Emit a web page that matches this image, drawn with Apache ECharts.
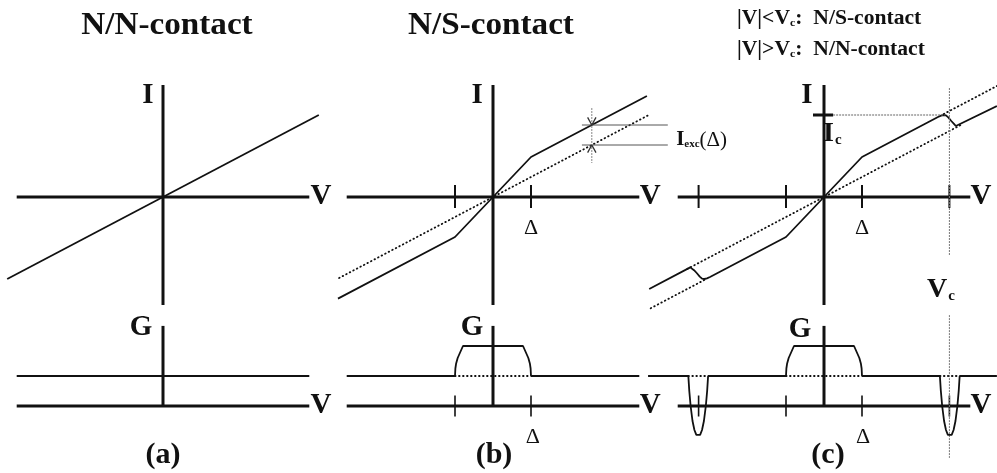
<!DOCTYPE html>
<html>
<head>
<meta charset="utf-8">
<script src="https://cdn.jsdelivr.net/npm/echarts@6/dist/echarts.min.js"></script>
<style>
  html, body { margin: 0; padding: 0; background: #fff; }
  #chart { width: 997px; height: 473px; }
</style>
</head>
<body>
<div id="chart"></div>
<script>
// Units: V in units of the gap Δ, I in units of Δ/R_N, G in units of 1/R_N.

// (a) N/N contact: ohmic
const nnIV = [[-4.1, -4.1], [4.1, 4.1]];
const nnG = [[-3.85, 1], [3.85, 1]];

// (b) N/S contact: Andreev doubling inside the gap, excess current outside
const nsIV = [[-4.08, -5.08], [-1, -2], [0, 0], [1, 2], [4.05, 5.05]];
const nsOhmic = [[-4.05, -4.05], [4.1, 4.1]];
const nsG = [[-3.85, 1], [-1, 1], [-0.99, 1.25], [-0.97, 1.42], [-0.93, 1.6], [-0.79, 2],
             [0.79, 2], [0.93, 1.6], [0.97, 1.42], [0.99, 1.25], [1, 1], [3.85, 1]];
const nsGDotted = [[-1, 1], [1, 1]];

// (c) N/S contact switching to N/N above the critical voltage
const scIV = [[-4.6, -4.6], [-3.52, -3.52], [-3.47, -3.55], [-3.42, -3.66], [-3.35, -3.8], [-3.27, -3.98],
              [-3.21, -4.08], [-3.15, -4.1], [-3.08, -4.07], [-3.0, -4.0], [-1, -2], [0, 0], [1, 2],
              [3.0, 4.0], [3.08, 4.07], [3.15, 4.1], [3.21, 4.08], [3.27, 3.98], [3.35, 3.8],
              [3.42, 3.66], [3.47, 3.55], [3.52, 3.52], [4.55, 4.55]];
const scOhmic = [[-3.6, -3.6], [3.6, 3.6]];
const scExcessRight = [[3.15, 4.15], [4.55, 5.55]];
const scExcessLeft = [[-3.15, -4.15], [-4.6, -5.6]];
const scG = [[-4.63, 1], [-3.57, 1], [-3.545, 0.5], [-3.51, 0], [-3.46, -0.5], [-3.41, -0.8], [-3.36, -0.96],
             [-3.31, -1.0], [-3.26, -0.96], [-3.21, -0.8], [-3.16, -0.5], [-3.11, 0], [-3.075, 0.5], [-3.05, 1],
             [-1, 1], [-0.99, 1.25], [-0.97, 1.42], [-0.93, 1.6], [-0.79, 2], [0.79, 2], [0.93, 1.6],
             [0.97, 1.42], [0.99, 1.25], [1, 1],
             [3.05, 1], [3.075, 0.5], [3.11, 0], [3.16, -0.5], [3.21, -0.8], [3.26, -0.96], [3.31, -1.0],
             [3.36, -0.96], [3.41, -0.8], [3.46, -0.5], [3.51, 0], [3.545, 0.5], [3.57, 1], [4.55, 1]];
const scGDotted = [[[-3.57, 1], [-3.05, 1]], [[-1, 1], [1, 1]], [[3.05, 1], [3.57, 1]]];

// Axes, ticks and markers
const axisSpanV = [-3.85, 3.85];
const ivAxisSpanI = [-5.4, 5.6];
const gAxisTop = 2.67;
const gapTicks = [-1, 1];
const vcTicks = [-3.3, 3.3];
const Vc = 3.3;
const Ic = 4.1;
const icTick = [[-0.29, Ic], [0.24, Ic]];
const icGuide = [[0.24, Ic], [3.18, Ic]];
const vcGuideIV = [[Vc, 5.45], [Vc, -2.9]];
const vcGuideG = [[Vc, 3.03], [Vc, -1.73]];
const excessV = 2.6;
const excessLevels = [3.6, 2.6];
const excessLineSpan = [2.34, 4.6];
const excessGuide = [[excessV, 4.45], [excessV, 1.7]];

// Text
const titles = ['N/N-contact', 'N/S-contact'];
const panelTags = ['(a)', '(b)', '(c)'];
const regimeLines = ['{n||V|<V}{s|c}{n|:  N/S-contact}', '{n||V|>V}{s|c}{n|:  N/N-contact}'];

// ---- layout ----
const PX_V = 38, PX_I = 20, PX_G = 30;
const colX = [163, 493, 824];
const IV_Y0 = 197, G_Y0 = 406;
const I_RANGE = [-6, 6], G_RANGE = [-2, 3.5];
const V_RANGES = [[-4.2, 4.2], [-4.6, 4.6], [-4.8, 4.5]];
const FONT = "'Liberation Serif', 'Times New Roman', serif";
const INK = '#111';

const grids = [], xAxes = [], yAxes = [];
function addGrid(cx, vr, y0, yr, pxY) {
  grids.push({ left: cx + vr[0] * PX_V, width: (vr[1] - vr[0]) * PX_V,
               top: y0 - yr[1] * pxY, height: (yr[1] - yr[0]) * pxY, containLabel: false });
  xAxes.push({ type: 'value', min: vr[0], max: vr[1], show: false, gridIndex: grids.length - 1 });
  yAxes.push({ type: 'value', min: yr[0], max: yr[1], show: false, gridIndex: grids.length - 1 });
  return grids.length - 1;
}
const ivGrid = colX.map((cx, i) => addGrid(cx, V_RANGES[i], IV_Y0, I_RANGE, PX_I));
const gGrid = colX.map((cx, i) => addGrid(cx, V_RANGES[i], G_Y0, G_RANGE, PX_G));

const series = [];
function line(gi, data, width, opts) {
  opts = opts || {};
  series.push({
    type: 'line', xAxisIndex: gi, yAxisIndex: gi, data: data, symbol: 'none',
    silent: true, animation: false, clip: false, z: opts.z || 3,
    lineStyle: { width: width, color: opts.color || INK, type: opts.type || 'solid', cap: opts.cap || 'butt' }
  });
}
const DOT = { type: [0.6, 3.4], cap: 'round', z: 2 };

// axes of every panel
ivGrid.forEach(gi => {
  line(gi, [[axisSpanV[0], 0], [axisSpanV[1], 0]], 3);
  line(gi, [[0, ivAxisSpanI[0]], [0, ivAxisSpanI[1]]], 3);
});
gGrid.forEach(gi => {
  line(gi, [[axisSpanV[0], 0], [axisSpanV[1], 0]], 3);
  line(gi, [[0, 0], [0, gAxisTop]], 3);
});
// ticks
[1, 2].forEach(k => gapTicks.forEach(t => {
  line(ivGrid[k], [[t, -0.55], [t, 0.6]], 2);
  line(gGrid[k], [[t, -0.35], [t, 0.35]], 1.6);
}));
vcTicks.forEach(t => {
  line(ivGrid[2], [[t, -0.55], [t, 0.6]], 2);
  line(gGrid[2], [[t, -0.35], [t, 0.35]], 1.6);
});

// (a)
line(ivGrid[0], nnIV, 1.8);
line(gGrid[0], nnG, 1.8);

// (b)
line(ivGrid[1], nsOhmic, 1.8, DOT);
line(ivGrid[1], nsIV, 1.8);
line(gGrid[1], nsGDotted, 1.8, DOT);
line(gGrid[1], nsG, 1.8);
excessLevels.forEach(lv => line(ivGrid[1], [[excessLineSpan[0], lv], [excessLineSpan[1], lv]], 1, { color: '#555' }));
line(ivGrid[1], excessGuide, 1, { color: '#888', type: [2, 1] });
line(ivGrid[1], [[excessV - 0.11, excessLevels[0] + 0.38], [excessV, excessLevels[0]], [excessV + 0.11, excessLevels[0] + 0.38]], 1.3, { color: '#333' });
line(ivGrid[1], [[excessV - 0.11, excessLevels[1] - 0.38], [excessV, excessLevels[1]], [excessV + 0.11, excessLevels[1] - 0.38]], 1.3, { color: '#333' });

// (c)
line(ivGrid[2], scOhmic, 1.8, DOT);
line(ivGrid[2], scExcessRight, 1.8, DOT);
line(ivGrid[2], scExcessLeft, 1.8, DOT);
line(ivGrid[2], scIV, 1.8);
line(ivGrid[2], icTick, 3);
line(ivGrid[2], icGuide, 1.2, { color: '#666', type: [2, 1] });
line(ivGrid[2], vcGuideIV, 1, { color: '#777', type: [2, 1] });
line(gGrid[2], vcGuideG, 1, { color: '#777', type: [2, 1] });
scGDotted.forEach(d => line(gGrid[2], d, 1.8, DOT));
line(gGrid[2], scG, 1.8);

const chart = echarts.init(document.getElementById('chart'), null, { renderer: 'canvas' });
chart.setOption({
  backgroundColor: '#fff',
  animation: false,
  grid: grids,
  xAxis: xAxes,
  yAxis: yAxes,
  series: series
});

// ---- text: axis letters are placed in data coordinates of their panel ----
function txt(x, y, text, font, extra) {
  return Object.assign({
    type: 'text', x: x, y: y, silent: true, z: 10,
    style: Object.assign({ text: text, font: font, fill: INK, align: 'center', verticalAlign: 'middle',
                           textAlign: 'center', textVerticalAlign: 'middle' }, (extra && extra.style) || {})
  }, extra && extra.el || {});
}
const LETTER = 'bold 29px ' + FONT;
const DELTA = '22px ' + FONT;
const subRich = {
  m: { fontFamily: FONT, fontWeight: 'bold', fontSize: 28, fill: INK },
  s: { fontFamily: FONT, fontWeight: 'bold', fontSize: 15, fill: INK, padding: [12, 0, 0, 1] }
};
const excRich = {
  m: { fontFamily: FONT, fontWeight: 'bold', fontSize: 21, fill: INK },
  s: { fontFamily: FONT, fontWeight: 'bold', fontSize: 11, fill: INK, padding: [9, 0, 0, 0] },
  d: { fontFamily: FONT, fontWeight: 'normal', fontSize: 21, fill: INK }
};
const axisText = [
  [ivGrid[0], 4.16, 0, 'V', LETTER], [ivGrid[0], -0.4, 5.05, 'I', LETTER],
  [ivGrid[1], 4.14, 0, 'V', LETTER], [ivGrid[1], -0.42, 5.05, 'I', LETTER], [ivGrid[1], 1, -1.55, 'Δ', DELTA],
  [ivGrid[2], 4.13, 0, 'V', LETTER], [ivGrid[2], -0.45, 5.05, 'I', LETTER], [ivGrid[2], 1, -1.55, 'Δ', DELTA],
  [gGrid[0], 4.16, 0, 'V', LETTER], [gGrid[0], -0.58, 2.63, 'G', LETTER],
  [gGrid[1], 4.14, 0, 'V', LETTER], [gGrid[1], -0.55, 2.63, 'G', LETTER], [gGrid[1], 1.05, -1.03, 'Δ', DELTA],
  [gGrid[2], 4.13, 0, 'V', LETTER], [gGrid[2], -0.63, 2.55, 'G', LETTER], [gGrid[2], 1.03, -1.03, 'Δ', DELTA]
];
const graphics = [];
axisText.forEach(a => {
  const p = chart.convertToPixel({ gridIndex: a[0] }, [a[1], a[2]]);
  graphics.push(txt(p[0], p[1], a[3], a[4]));
});
let p = chart.convertToPixel({ gridIndex: ivGrid[2] }, [0.22, 3.15]);
graphics.push(txt(p[0], p[1], '{m|I}{s|c}', null, { style: { rich: subRich } }));
p = chart.convertToPixel({ gridIndex: ivGrid[2] }, [3.08, -4.65]);
graphics.push(txt(p[0], p[1], '{m|V}{s|c}', null, { style: { rich: subRich } }));
p = chart.convertToPixel({ gridIndex: ivGrid[1] }, [4.82, 2.85]);
graphics.push(txt(p[0], p[1], '{m|I}{s|exc}{d|(Δ)}', null,
  { style: { rich: excRich, align: 'left', textAlign: 'left' } }));

// headings and panel tags (slightly widened lettering)
titles.forEach((t, i) => graphics.push(txt([167, 491][i], 26, t, 'bold 31px ' + FONT,
  { el: { scaleX: 1.07, originX: 0, originY: 0 } })));
panelTags.forEach((t, i) => graphics.push(txt([163, 494, 828][i], 455, t, 'bold 30px ' + FONT)));
const condRich = {
  n: { fontFamily: FONT, fontWeight: 'bold', fontSize: 20, fill: INK },
  s: { fontFamily: FONT, fontWeight: 'bold', fontSize: 11, fill: INK, padding: [8, 0, 0, 0] }
};
regimeLines.forEach((t, i) => graphics.push(txt(737, [19, 50][i], t, null,
  { style: { rich: condRich, align: 'left', textAlign: 'left' }, el: { scaleX: 1.08, originX: 0, originY: 0 } })));

chart.setOption({ graphic: graphics });
</script>
</body>
</html>
